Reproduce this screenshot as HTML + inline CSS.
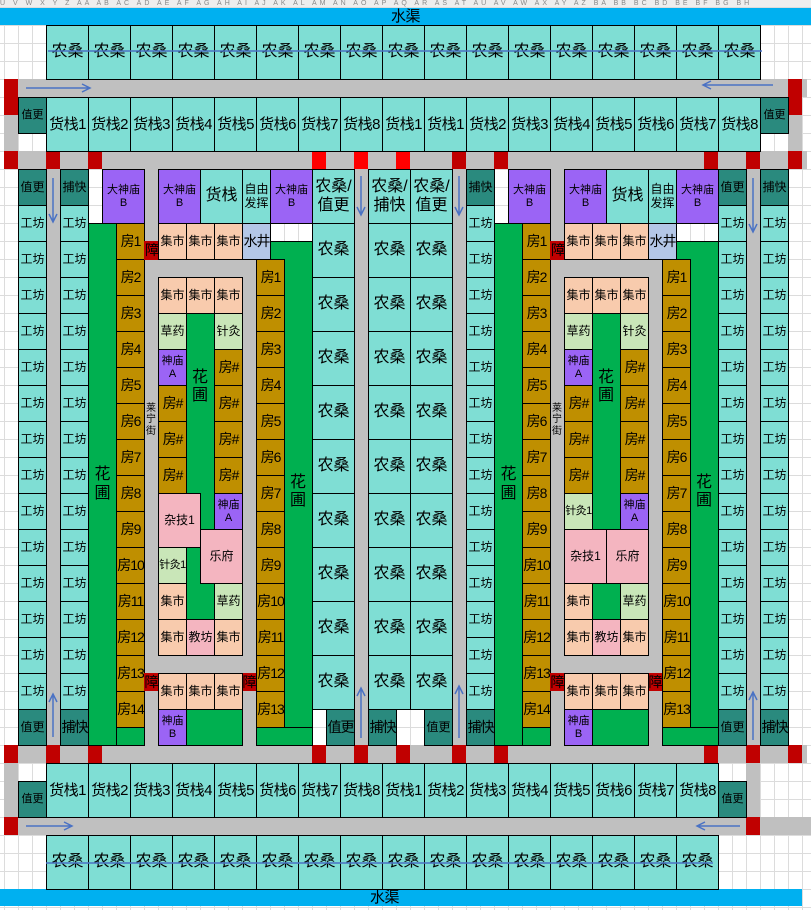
<!DOCTYPE html>
<html><head><meta charset="utf-8"><style>
*{margin:0;padding:0}
body{width:811px;height:910px;position:relative;overflow:hidden;background-color:#fff;
background-image:linear-gradient(to right,#dcdcdc 1px,transparent 1px),linear-gradient(to bottom,#dcdcdc 1px,transparent 1px);
background-size:14px 18px;background-position:4px 7px;
font-family:"Liberation Sans","Noto Sans CJK SC","WenQuanYi Zen Hei",sans-serif;color:#000}
div{position:absolute;box-sizing:border-box}
.c{border:1px solid #000;display:flex;align-items:center;justify-content:center;text-align:center;line-height:1.15;font-size:12px;white-space:nowrap}
.t{background:#7fded4}.d{background:#2a8a7e}.p{background:#9b64f5}.b{background:#bf8f00}
.g{background:#00b050}.k{background:#f8cbad}.l{background:#c9e6b8}.pk{background:#f4b5c0}.w{background:#b4c7e7}
.r{background:#c0c0c0}.R{background:#c00000}.F{background:#ff0000}
.n{font-size:16px}.h{font-size:15px;letter-spacing:-0.5px}.s{font-size:11px}.f{font-size:14px;letter-spacing:-1px}
.lab{display:flex;align-items:center;justify-content:center;text-align:center;line-height:1.15;white-space:nowrap}
</style></head><body>
<div style="left:0;top:0;width:811px;height:7px;background:#eee;font-size:7px;color:#888;overflow:hidden;line-height:7px;letter-spacing:3px">U V W X Y Z AA AB AC AD AE AF AG AH AI AJ AK AL AM AN AO AP AQ AR AS AT AU AV AW AX AY AZ BA BB BC BD BE BF BG BH</div>
<div class="lab h" style="left:0;top:8px;width:811px;height:17px;background:#00b0f0">水渠</div>
<div class="lab h" style="left:0;top:889px;width:802px;height:17px;background:#00b0f0;justify-content:flex-start;padding-left:370px">水渠</div>

<div class="r" style="left:4px;top:79px;width:803px;height:18px"></div>
<div class="r" style="left:4px;top:151px;width:803px;height:18px"></div>
<div class="r" style="left:4px;top:745px;width:803px;height:18px"></div>
<div class="r" style="left:4px;top:817px;width:807px;height:18px"></div>
<div class="r" style="left:4px;top:79px;width:14px;height:90px"></div>
<div class="r" style="left:4px;top:745px;width:14px;height:90px"></div>
<div class="r" style="left:788px;top:79px;width:14px;height:90px"></div>
<div class="r" style="left:746px;top:745px;width:14px;height:90px"></div>
<div class="r" style="left:46px;top:169px;width:14px;height:576px"></div>
<div class="r" style="left:144px;top:169px;width:14px;height:576px"></div>
<div class="r" style="left:144px;top:259px;width:112px;height:486px"></div>
<div class="r" style="left:354px;top:169px;width:14px;height:576px"></div>
<div class="r" style="left:452px;top:169px;width:14px;height:576px"></div>
<div class="r" style="left:550px;top:169px;width:14px;height:576px"></div>
<div class="r" style="left:550px;top:259px;width:112px;height:486px"></div>
<div class="r" style="left:746px;top:169px;width:14px;height:576px"></div>

<div class="R" style="left:4px;top:79px;width:14px;height:36px"></div>
<div class="R" style="left:788px;top:79px;width:14px;height:36px"></div>
<div class="R" style="left:4px;top:151px;width:14px;height:18px"></div>
<div class="R" style="left:46px;top:151px;width:14px;height:18px"></div>
<div class="R" style="left:88px;top:151px;width:14px;height:18px"></div>
<div class="F" style="left:312px;top:151px;width:14px;height:18px"></div>
<div class="F" style="left:354px;top:151px;width:14px;height:18px"></div>
<div class="F" style="left:396px;top:151px;width:14px;height:18px"></div>
<div class="R" style="left:452px;top:151px;width:14px;height:18px"></div>
<div class="R" style="left:494px;top:151px;width:14px;height:18px"></div>
<div class="R" style="left:704px;top:151px;width:14px;height:18px"></div>
<div class="R" style="left:746px;top:151px;width:14px;height:18px"></div>
<div class="R" style="left:788px;top:151px;width:14px;height:18px"></div>
<div class="R" style="left:4px;top:745px;width:14px;height:18px"></div>
<div class="R" style="left:46px;top:745px;width:14px;height:18px"></div>
<div class="R" style="left:88px;top:745px;width:14px;height:18px"></div>
<div class="R" style="left:312px;top:745px;width:14px;height:18px"></div>
<div class="R" style="left:354px;top:745px;width:14px;height:18px"></div>
<div class="R" style="left:396px;top:745px;width:14px;height:18px"></div>
<div class="R" style="left:452px;top:745px;width:14px;height:18px"></div>
<div class="R" style="left:494px;top:745px;width:14px;height:18px"></div>
<div class="R" style="left:704px;top:745px;width:14px;height:18px"></div>
<div class="R" style="left:746px;top:745px;width:14px;height:18px"></div>
<div class="R" style="left:788px;top:745px;width:14px;height:18px"></div>
<div class="R" style="left:4px;top:817px;width:14px;height:18px"></div>
<div class="R" style="left:746px;top:817px;width:14px;height:18px"></div>

<div class="c t n" style="left:46px;top:25px;width:43px;height:55px">农桑</div>
<div class="c t n" style="left:88px;top:25px;width:43px;height:55px">农桑</div>
<div class="c t n" style="left:130px;top:25px;width:43px;height:55px">农桑</div>
<div class="c t n" style="left:172px;top:25px;width:43px;height:55px">农桑</div>
<div class="c t n" style="left:214px;top:25px;width:43px;height:55px">农桑</div>
<div class="c t n" style="left:256px;top:25px;width:43px;height:55px">农桑</div>
<div class="c t n" style="left:298px;top:25px;width:43px;height:55px">农桑</div>
<div class="c t n" style="left:340px;top:25px;width:43px;height:55px">农桑</div>
<div class="c t n" style="left:382px;top:25px;width:43px;height:55px">农桑</div>
<div class="c t n" style="left:424px;top:25px;width:43px;height:55px">农桑</div>
<div class="c t n" style="left:466px;top:25px;width:43px;height:55px">农桑</div>
<div class="c t n" style="left:508px;top:25px;width:43px;height:55px">农桑</div>
<div class="c t n" style="left:550px;top:25px;width:43px;height:55px">农桑</div>
<div class="c t n" style="left:592px;top:25px;width:43px;height:55px">农桑</div>
<div class="c t n" style="left:634px;top:25px;width:43px;height:55px">农桑</div>
<div class="c t n" style="left:676px;top:25px;width:43px;height:55px">农桑</div>
<div class="c t n" style="left:718px;top:25px;width:43px;height:55px">农桑</div>

<div class="c d s" style="left:18px;top:97px;width:29px;height:37px">值更</div>
<div class="c d s" style="left:760px;top:97px;width:29px;height:37px">值更</div>
<div class="c t h" style="left:46px;top:97px;width:43px;height:55px">货栈1</div>
<div class="c t h" style="left:88px;top:97px;width:43px;height:55px">货栈2</div>
<div class="c t h" style="left:130px;top:97px;width:43px;height:55px">货栈3</div>
<div class="c t h" style="left:172px;top:97px;width:43px;height:55px">货栈4</div>
<div class="c t h" style="left:214px;top:97px;width:43px;height:55px">货栈5</div>
<div class="c t h" style="left:256px;top:97px;width:43px;height:55px">货栈6</div>
<div class="c t h" style="left:298px;top:97px;width:43px;height:55px">货栈7</div>
<div class="c t h" style="left:340px;top:97px;width:43px;height:55px">货栈8</div>
<div class="c t h" style="left:382px;top:97px;width:43px;height:55px">货栈1</div>
<div class="c t h" style="left:424px;top:97px;width:43px;height:55px">货栈1</div>
<div class="c t h" style="left:466px;top:97px;width:43px;height:55px">货栈2</div>
<div class="c t h" style="left:508px;top:97px;width:43px;height:55px">货栈3</div>
<div class="c t h" style="left:550px;top:97px;width:43px;height:55px">货栈4</div>
<div class="c t h" style="left:592px;top:97px;width:43px;height:55px">货栈5</div>
<div class="c t h" style="left:634px;top:97px;width:43px;height:55px">货栈6</div>
<div class="c t h" style="left:676px;top:97px;width:43px;height:55px">货栈7</div>
<div class="c t h" style="left:718px;top:97px;width:43px;height:55px">货栈8</div>

<div class="c d s" style="left:18px;top:781px;width:29px;height:37px">值更</div>
<div class="c d s" style="left:718px;top:781px;width:29px;height:37px">值更</div>
<div class="c t h" style="left:46px;top:763px;width:43px;height:55px">货栈1</div>
<div class="c t h" style="left:88px;top:763px;width:43px;height:55px">货栈2</div>
<div class="c t h" style="left:130px;top:763px;width:43px;height:55px">货栈3</div>
<div class="c t h" style="left:172px;top:763px;width:43px;height:55px">货栈4</div>
<div class="c t h" style="left:214px;top:763px;width:43px;height:55px">货栈5</div>
<div class="c t h" style="left:256px;top:763px;width:43px;height:55px">货栈6</div>
<div class="c t h" style="left:298px;top:763px;width:43px;height:55px">货栈7</div>
<div class="c t h" style="left:340px;top:763px;width:43px;height:55px">货栈8</div>
<div class="c t h" style="left:382px;top:763px;width:43px;height:55px">货栈1</div>
<div class="c t h" style="left:424px;top:763px;width:43px;height:55px">货栈2</div>
<div class="c t h" style="left:466px;top:763px;width:43px;height:55px">货栈3</div>
<div class="c t h" style="left:508px;top:763px;width:43px;height:55px">货栈4</div>
<div class="c t h" style="left:550px;top:763px;width:43px;height:55px">货栈5</div>
<div class="c t h" style="left:592px;top:763px;width:43px;height:55px">货栈6</div>
<div class="c t h" style="left:634px;top:763px;width:43px;height:55px">货栈7</div>
<div class="c t h" style="left:676px;top:763px;width:43px;height:55px">货栈8</div>

<div class="c t n" style="left:46px;top:835px;width:43px;height:55px">农桑</div>
<div class="c t n" style="left:88px;top:835px;width:43px;height:55px">农桑</div>
<div class="c t n" style="left:130px;top:835px;width:43px;height:55px">农桑</div>
<div class="c t n" style="left:172px;top:835px;width:43px;height:55px">农桑</div>
<div class="c t n" style="left:214px;top:835px;width:43px;height:55px">农桑</div>
<div class="c t n" style="left:256px;top:835px;width:43px;height:55px">农桑</div>
<div class="c t n" style="left:298px;top:835px;width:43px;height:55px">农桑</div>
<div class="c t n" style="left:340px;top:835px;width:43px;height:55px">农桑</div>
<div class="c t n" style="left:382px;top:835px;width:43px;height:55px">农桑</div>
<div class="c t n" style="left:424px;top:835px;width:43px;height:55px">农桑</div>
<div class="c t n" style="left:466px;top:835px;width:43px;height:55px">农桑</div>
<div class="c t n" style="left:508px;top:835px;width:43px;height:55px">农桑</div>
<div class="c t n" style="left:550px;top:835px;width:43px;height:55px">农桑</div>
<div class="c t n" style="left:592px;top:835px;width:43px;height:55px">农桑</div>
<div class="c t n" style="left:634px;top:835px;width:43px;height:55px">农桑</div>
<div class="c t n" style="left:676px;top:835px;width:43px;height:55px">农桑</div>

<div class="c d" style="left:18px;top:169px;width:29px;height:37px">值更</div>
<div class="c d" style="left:18px;top:709px;width:29px;height:37px">值更</div>
<div class="c d" style="left:60px;top:169px;width:29px;height:37px">捕快</div>
<div class="c d f" style="left:60px;top:709px;width:29px;height:37px">捕快</div>
<div class="c d" style="left:466px;top:169px;width:29px;height:37px">捕快</div>
<div class="c d f" style="left:466px;top:709px;width:29px;height:37px">捕快</div>
<div class="c d" style="left:718px;top:169px;width:29px;height:37px">值更</div>
<div class="c d" style="left:718px;top:709px;width:29px;height:37px">值更</div>
<div class="c d" style="left:760px;top:169px;width:29px;height:37px">捕快</div>
<div class="c d f" style="left:760px;top:709px;width:29px;height:37px">捕快</div>

<div style="left:18px;top:205px;width:29px;height:505px;display:flex;flex-direction:column">
<div class="c t" style="position:relative;width:29px;height:37px;margin-bottom:-1px">工坊</div><div class="c t" style="position:relative;width:29px;height:37px;margin-bottom:-1px">工坊</div><div class="c t" style="position:relative;width:29px;height:37px;margin-bottom:-1px">工坊</div><div class="c t" style="position:relative;width:29px;height:37px;margin-bottom:-1px">工坊</div><div class="c t" style="position:relative;width:29px;height:37px;margin-bottom:-1px">工坊</div><div class="c t" style="position:relative;width:29px;height:37px;margin-bottom:-1px">工坊</div><div class="c t" style="position:relative;width:29px;height:37px;margin-bottom:-1px">工坊</div><div class="c t" style="position:relative;width:29px;height:37px;margin-bottom:-1px">工坊</div><div class="c t" style="position:relative;width:29px;height:37px;margin-bottom:-1px">工坊</div><div class="c t" style="position:relative;width:29px;height:37px;margin-bottom:-1px">工坊</div><div class="c t" style="position:relative;width:29px;height:37px;margin-bottom:-1px">工坊</div><div class="c t" style="position:relative;width:29px;height:37px;margin-bottom:-1px">工坊</div><div class="c t" style="position:relative;width:29px;height:37px;margin-bottom:-1px">工坊</div><div class="c t" style="position:relative;width:29px;height:37px;margin-bottom:-1px">工坊</div>
</div>
<div style="left:60px;top:205px;width:29px;height:505px;display:flex;flex-direction:column">
<div class="c t" style="position:relative;width:29px;height:37px;margin-bottom:-1px">工坊</div><div class="c t" style="position:relative;width:29px;height:37px;margin-bottom:-1px">工坊</div><div class="c t" style="position:relative;width:29px;height:37px;margin-bottom:-1px">工坊</div><div class="c t" style="position:relative;width:29px;height:37px;margin-bottom:-1px">工坊</div><div class="c t" style="position:relative;width:29px;height:37px;margin-bottom:-1px">工坊</div><div class="c t" style="position:relative;width:29px;height:37px;margin-bottom:-1px">工坊</div><div class="c t" style="position:relative;width:29px;height:37px;margin-bottom:-1px">工坊</div><div class="c t" style="position:relative;width:29px;height:37px;margin-bottom:-1px">工坊</div><div class="c t" style="position:relative;width:29px;height:37px;margin-bottom:-1px">工坊</div><div class="c t" style="position:relative;width:29px;height:37px;margin-bottom:-1px">工坊</div><div class="c t" style="position:relative;width:29px;height:37px;margin-bottom:-1px">工坊</div><div class="c t" style="position:relative;width:29px;height:37px;margin-bottom:-1px">工坊</div><div class="c t" style="position:relative;width:29px;height:37px;margin-bottom:-1px">工坊</div><div class="c t" style="position:relative;width:29px;height:37px;margin-bottom:-1px">工坊</div>
</div>
<div style="left:466px;top:205px;width:29px;height:505px;display:flex;flex-direction:column">
<div class="c t" style="position:relative;width:29px;height:37px;margin-bottom:-1px">工坊</div><div class="c t" style="position:relative;width:29px;height:37px;margin-bottom:-1px">工坊</div><div class="c t" style="position:relative;width:29px;height:37px;margin-bottom:-1px">工坊</div><div class="c t" style="position:relative;width:29px;height:37px;margin-bottom:-1px">工坊</div><div class="c t" style="position:relative;width:29px;height:37px;margin-bottom:-1px">工坊</div><div class="c t" style="position:relative;width:29px;height:37px;margin-bottom:-1px">工坊</div><div class="c t" style="position:relative;width:29px;height:37px;margin-bottom:-1px">工坊</div><div class="c t" style="position:relative;width:29px;height:37px;margin-bottom:-1px">工坊</div><div class="c t" style="position:relative;width:29px;height:37px;margin-bottom:-1px">工坊</div><div class="c t" style="position:relative;width:29px;height:37px;margin-bottom:-1px">工坊</div><div class="c t" style="position:relative;width:29px;height:37px;margin-bottom:-1px">工坊</div><div class="c t" style="position:relative;width:29px;height:37px;margin-bottom:-1px">工坊</div><div class="c t" style="position:relative;width:29px;height:37px;margin-bottom:-1px">工坊</div><div class="c t" style="position:relative;width:29px;height:37px;margin-bottom:-1px">工坊</div>
</div>
<div style="left:718px;top:205px;width:29px;height:505px;display:flex;flex-direction:column">
<div class="c t" style="position:relative;width:29px;height:37px;margin-bottom:-1px">工坊</div><div class="c t" style="position:relative;width:29px;height:37px;margin-bottom:-1px">工坊</div><div class="c t" style="position:relative;width:29px;height:37px;margin-bottom:-1px">工坊</div><div class="c t" style="position:relative;width:29px;height:37px;margin-bottom:-1px">工坊</div><div class="c t" style="position:relative;width:29px;height:37px;margin-bottom:-1px">工坊</div><div class="c t" style="position:relative;width:29px;height:37px;margin-bottom:-1px">工坊</div><div class="c t" style="position:relative;width:29px;height:37px;margin-bottom:-1px">工坊</div><div class="c t" style="position:relative;width:29px;height:37px;margin-bottom:-1px">工坊</div><div class="c t" style="position:relative;width:29px;height:37px;margin-bottom:-1px">工坊</div><div class="c t" style="position:relative;width:29px;height:37px;margin-bottom:-1px">工坊</div><div class="c t" style="position:relative;width:29px;height:37px;margin-bottom:-1px">工坊</div><div class="c t" style="position:relative;width:29px;height:37px;margin-bottom:-1px">工坊</div><div class="c t" style="position:relative;width:29px;height:37px;margin-bottom:-1px">工坊</div><div class="c t" style="position:relative;width:29px;height:37px;margin-bottom:-1px">工坊</div>
</div>
<div style="left:760px;top:205px;width:29px;height:505px;display:flex;flex-direction:column">
<div class="c t" style="position:relative;width:29px;height:37px;margin-bottom:-1px">工坊</div><div class="c t" style="position:relative;width:29px;height:37px;margin-bottom:-1px">工坊</div><div class="c t" style="position:relative;width:29px;height:37px;margin-bottom:-1px">工坊</div><div class="c t" style="position:relative;width:29px;height:37px;margin-bottom:-1px">工坊</div><div class="c t" style="position:relative;width:29px;height:37px;margin-bottom:-1px">工坊</div><div class="c t" style="position:relative;width:29px;height:37px;margin-bottom:-1px">工坊</div><div class="c t" style="position:relative;width:29px;height:37px;margin-bottom:-1px">工坊</div><div class="c t" style="position:relative;width:29px;height:37px;margin-bottom:-1px">工坊</div><div class="c t" style="position:relative;width:29px;height:37px;margin-bottom:-1px">工坊</div><div class="c t" style="position:relative;width:29px;height:37px;margin-bottom:-1px">工坊</div><div class="c t" style="position:relative;width:29px;height:37px;margin-bottom:-1px">工坊</div><div class="c t" style="position:relative;width:29px;height:37px;margin-bottom:-1px">工坊</div><div class="c t" style="position:relative;width:29px;height:37px;margin-bottom:-1px">工坊</div><div class="c t" style="position:relative;width:29px;height:37px;margin-bottom:-1px">工坊</div>
</div>

<div class="c t n" style="left:312px;top:169px;width:43px;height:55px">农桑/<br>值更</div>
<div class="c t n" style="left:368px;top:169px;width:43px;height:55px">农桑/<br>捕快</div>
<div class="c t n" style="left:410px;top:169px;width:43px;height:55px">农桑/<br>值更</div>
<div style="left:312px;top:223px;width:43px;height:487px;display:flex;flex-direction:column">
<div class="c t n" style="position:relative;width:43px;height:55px;margin-bottom:-1px">农桑</div><div class="c t n" style="position:relative;width:43px;height:55px;margin-bottom:-1px">农桑</div><div class="c t n" style="position:relative;width:43px;height:55px;margin-bottom:-1px">农桑</div><div class="c t n" style="position:relative;width:43px;height:55px;margin-bottom:-1px">农桑</div><div class="c t n" style="position:relative;width:43px;height:55px;margin-bottom:-1px">农桑</div><div class="c t n" style="position:relative;width:43px;height:55px;margin-bottom:-1px">农桑</div><div class="c t n" style="position:relative;width:43px;height:55px;margin-bottom:-1px">农桑</div><div class="c t n" style="position:relative;width:43px;height:55px;margin-bottom:-1px">农桑</div><div class="c t n" style="position:relative;width:43px;height:55px;margin-bottom:-1px">农桑</div>
</div>
<div style="left:368px;top:223px;width:43px;height:487px;display:flex;flex-direction:column">
<div class="c t n" style="position:relative;width:43px;height:55px;margin-bottom:-1px">农桑</div><div class="c t n" style="position:relative;width:43px;height:55px;margin-bottom:-1px">农桑</div><div class="c t n" style="position:relative;width:43px;height:55px;margin-bottom:-1px">农桑</div><div class="c t n" style="position:relative;width:43px;height:55px;margin-bottom:-1px">农桑</div><div class="c t n" style="position:relative;width:43px;height:55px;margin-bottom:-1px">农桑</div><div class="c t n" style="position:relative;width:43px;height:55px;margin-bottom:-1px">农桑</div><div class="c t n" style="position:relative;width:43px;height:55px;margin-bottom:-1px">农桑</div><div class="c t n" style="position:relative;width:43px;height:55px;margin-bottom:-1px">农桑</div><div class="c t n" style="position:relative;width:43px;height:55px;margin-bottom:-1px">农桑</div>
</div>
<div style="left:410px;top:223px;width:43px;height:487px;display:flex;flex-direction:column">
<div class="c t n" style="position:relative;width:43px;height:55px;margin-bottom:-1px">农桑</div><div class="c t n" style="position:relative;width:43px;height:55px;margin-bottom:-1px">农桑</div><div class="c t n" style="position:relative;width:43px;height:55px;margin-bottom:-1px">农桑</div><div class="c t n" style="position:relative;width:43px;height:55px;margin-bottom:-1px">农桑</div><div class="c t n" style="position:relative;width:43px;height:55px;margin-bottom:-1px">农桑</div><div class="c t n" style="position:relative;width:43px;height:55px;margin-bottom:-1px">农桑</div><div class="c t n" style="position:relative;width:43px;height:55px;margin-bottom:-1px">农桑</div><div class="c t n" style="position:relative;width:43px;height:55px;margin-bottom:-1px">农桑</div><div class="c t n" style="position:relative;width:43px;height:55px;margin-bottom:-1px">农桑</div>
</div>
<div class="c d f" style="left:326px;top:709px;width:29px;height:37px">值更</div>
<div class="c d f" style="left:368px;top:709px;width:29px;height:37px">捕快</div>
<div class="c d" style="left:424px;top:709px;width:29px;height:37px">值更</div>

<!-- LEFT BLOCK -->
<div class="c p s" style="left:102px;top:169px;width:43px;height:55px">大神庙<br>B</div>
<div class="c g n" style="left:88px;top:223px;width:29px;height:523px">花<br>圃</div>
<div style="left:116px;top:223px;width:29px;height:505px;display:flex;flex-direction:column">
<div class="c b f" style="position:relative;width:29px;height:37px;margin-bottom:-1px">房1</div><div class="c b f" style="position:relative;width:29px;height:37px;margin-bottom:-1px">房2</div><div class="c b f" style="position:relative;width:29px;height:37px;margin-bottom:-1px">房3</div><div class="c b f" style="position:relative;width:29px;height:37px;margin-bottom:-1px">房4</div><div class="c b f" style="position:relative;width:29px;height:37px;margin-bottom:-1px">房5</div><div class="c b f" style="position:relative;width:29px;height:37px;margin-bottom:-1px">房6</div><div class="c b f" style="position:relative;width:29px;height:37px;margin-bottom:-1px">房7</div><div class="c b f" style="position:relative;width:29px;height:37px;margin-bottom:-1px">房8</div><div class="c b f" style="position:relative;width:29px;height:37px;margin-bottom:-1px">房9</div><div class="c b f" style="position:relative;width:29px;height:37px;margin-bottom:-1px">房10</div><div class="c b f" style="position:relative;width:29px;height:37px;margin-bottom:-1px">房11</div><div class="c b f" style="position:relative;width:29px;height:37px;margin-bottom:-1px">房12</div><div class="c b f" style="position:relative;width:29px;height:37px;margin-bottom:-1px">房13</div><div class="c b f" style="position:relative;width:29px;height:37px;margin-bottom:-1px">房14</div>
</div>
<div class="c g" style="left:116px;top:727px;width:29px;height:19px"></div>
<div class="c R f" style="left:144px;top:241px;width:15px;height:19px;border:none;overflow:hidden">障</div>
<div class="c p s" style="left:158px;top:169px;width:43px;height:55px">大神庙<br>B</div>
<div class="c t n" style="left:200px;top:169px;width:43px;height:55px">货栈</div>
<div class="c t" style="left:242px;top:169px;width:29px;height:55px">自由<br>发挥</div>
<div class="c p s" style="left:270px;top:169px;width:43px;height:55px">大神庙<br>B</div>
<div class="c k" style="left:158px;top:223px;width:29px;height:37px">集市</div>
<div class="c k" style="left:186px;top:223px;width:29px;height:37px">集市</div>
<div class="c k" style="left:214px;top:223px;width:29px;height:37px">集市</div>
<div class="c w f" style="left:242px;top:223px;width:29px;height:37px">水井</div>
<div class="c g" style="left:270px;top:241px;width:43px;height:505px"></div>
<div class="lab g n" style="left:285px;top:470px;width:26px;height:44px">花<br>圃</div>
<div style="left:256px;top:259px;width:29px;height:469px;display:flex;flex-direction:column">
<div class="c b f" style="position:relative;width:29px;height:37px;margin-bottom:-1px">房1</div><div class="c b f" style="position:relative;width:29px;height:37px;margin-bottom:-1px">房2</div><div class="c b f" style="position:relative;width:29px;height:37px;margin-bottom:-1px">房3</div><div class="c b f" style="position:relative;width:29px;height:37px;margin-bottom:-1px">房4</div><div class="c b f" style="position:relative;width:29px;height:37px;margin-bottom:-1px">房5</div><div class="c b f" style="position:relative;width:29px;height:37px;margin-bottom:-1px">房6</div><div class="c b f" style="position:relative;width:29px;height:37px;margin-bottom:-1px">房7</div><div class="c b f" style="position:relative;width:29px;height:37px;margin-bottom:-1px">房8</div><div class="c b f" style="position:relative;width:29px;height:37px;margin-bottom:-1px">房9</div><div class="c b f" style="position:relative;width:29px;height:37px;margin-bottom:-1px">房10</div><div class="c b f" style="position:relative;width:29px;height:37px;margin-bottom:-1px">房11</div><div class="c b f" style="position:relative;width:29px;height:37px;margin-bottom:-1px">房12</div><div class="c b f" style="position:relative;width:29px;height:37px;margin-bottom:-1px">房13</div>
</div>
<div class="c g" style="left:256px;top:727px;width:57px;height:19px"></div>
<div class="c g" style="left:158px;top:277px;width:85px;height:379px"></div>
<div class="lab n" style="left:186px;top:365px;width:28px;height:44px">花<br>圃</div>
<div class="c k" style="left:158px;top:277px;width:29px;height:37px">集市</div>
<div class="c k" style="left:186px;top:277px;width:29px;height:37px">集市</div>
<div class="c k" style="left:214px;top:277px;width:29px;height:37px">集市</div>
<div class="c l" style="left:158px;top:313px;width:29px;height:37px">草药</div>
<div class="c l" style="left:214px;top:313px;width:29px;height:37px">针灸</div>
<div class="c p s" style="left:158px;top:349px;width:29px;height:37px">神庙<br>A</div>
<div class="c b f" style="left:158px;top:385px;width:29px;height:37px">房#</div>
<div class="c b f" style="left:158px;top:421px;width:29px;height:37px">房#</div>
<div class="c b f" style="left:158px;top:457px;width:29px;height:37px">房#</div>
<div class="c b f" style="left:214px;top:349px;width:29px;height:37px">房#</div>
<div class="c b f" style="left:214px;top:385px;width:29px;height:37px">房#</div>
<div class="c b f" style="left:214px;top:421px;width:29px;height:37px">房#</div>
<div class="c b f" style="left:214px;top:457px;width:29px;height:37px">房#</div>
<div class="c pk" style="left:158px;top:493px;width:43px;height:55px">杂技1</div>
<div class="c p s" style="left:214px;top:493px;width:29px;height:37px">神庙<br>A</div>
<div class="c pk" style="left:200px;top:529px;width:43px;height:55px">乐府</div>
<div class="c l s" style="left:158px;top:547px;width:29px;height:37px;letter-spacing:-0.5px">针灸1</div>
<div class="c k" style="left:158px;top:583px;width:29px;height:37px">集市</div>
<div class="c l" style="left:214px;top:583px;width:29px;height:37px">草药</div>
<div class="c k" style="left:158px;top:619px;width:29px;height:37px">集市</div>
<div class="c pk" style="left:186px;top:619px;width:29px;height:37px">教坊</div>
<div class="c k" style="left:214px;top:619px;width:29px;height:37px">集市</div>
<div class="c R f" style="left:144px;top:673px;width:14px;height:18px;border:none;overflow:hidden">障</div>
<div class="c R f" style="left:242px;top:673px;width:14px;height:18px;border:none;overflow:hidden">障</div>
<div class="c g" style="left:158px;top:709px;width:85px;height:37px"></div>
<div class="c k" style="left:158px;top:673px;width:29px;height:37px">集市</div>
<div class="c k" style="left:186px;top:673px;width:29px;height:37px">集市</div>
<div class="c k" style="left:214px;top:673px;width:29px;height:37px">集市</div>
<div class="c p s" style="left:158px;top:709px;width:29px;height:37px">神庙<br>B</div>
<div class="lab" style="left:144px;top:395px;width:14px;height:50px;font-size:10px">莱<br>宁<br>街</div>

<!-- RIGHT BLOCK -->
<div class="c p s" style="left:508px;top:169px;width:43px;height:55px">大神庙<br>B</div>
<div class="c g n" style="left:494px;top:223px;width:29px;height:523px">花<br>圃</div>
<div style="left:522px;top:223px;width:29px;height:505px;display:flex;flex-direction:column">
<div class="c b f" style="position:relative;width:29px;height:37px;margin-bottom:-1px">房1</div><div class="c b f" style="position:relative;width:29px;height:37px;margin-bottom:-1px">房2</div><div class="c b f" style="position:relative;width:29px;height:37px;margin-bottom:-1px">房3</div><div class="c b f" style="position:relative;width:29px;height:37px;margin-bottom:-1px">房4</div><div class="c b f" style="position:relative;width:29px;height:37px;margin-bottom:-1px">房5</div><div class="c b f" style="position:relative;width:29px;height:37px;margin-bottom:-1px">房6</div><div class="c b f" style="position:relative;width:29px;height:37px;margin-bottom:-1px">房7</div><div class="c b f" style="position:relative;width:29px;height:37px;margin-bottom:-1px">房8</div><div class="c b f" style="position:relative;width:29px;height:37px;margin-bottom:-1px">房9</div><div class="c b f" style="position:relative;width:29px;height:37px;margin-bottom:-1px">房10</div><div class="c b f" style="position:relative;width:29px;height:37px;margin-bottom:-1px">房11</div><div class="c b f" style="position:relative;width:29px;height:37px;margin-bottom:-1px">房12</div><div class="c b f" style="position:relative;width:29px;height:37px;margin-bottom:-1px">房13</div><div class="c b f" style="position:relative;width:29px;height:37px;margin-bottom:-1px">房14</div>
</div>
<div class="c g" style="left:522px;top:727px;width:29px;height:19px"></div>
<div class="c R f" style="left:550px;top:241px;width:15px;height:19px;border:none;overflow:hidden">障</div>
<div class="c p s" style="left:564px;top:169px;width:43px;height:55px">大神庙<br>B</div>
<div class="c t n" style="left:606px;top:169px;width:43px;height:55px">货栈</div>
<div class="c t" style="left:648px;top:169px;width:29px;height:55px">自由<br>发挥</div>
<div class="c p s" style="left:676px;top:169px;width:43px;height:55px">大神庙<br>B</div>
<div class="c k" style="left:564px;top:223px;width:29px;height:37px">集市</div>
<div class="c k" style="left:592px;top:223px;width:29px;height:37px">集市</div>
<div class="c k" style="left:620px;top:223px;width:29px;height:37px">集市</div>
<div class="c w f" style="left:648px;top:223px;width:29px;height:37px">水井</div>
<div class="c g" style="left:676px;top:241px;width:43px;height:505px"></div>
<div class="lab g n" style="left:691px;top:470px;width:26px;height:44px">花<br>圃</div>
<div style="left:662px;top:259px;width:29px;height:469px;display:flex;flex-direction:column">
<div class="c b f" style="position:relative;width:29px;height:37px;margin-bottom:-1px">房1</div><div class="c b f" style="position:relative;width:29px;height:37px;margin-bottom:-1px">房2</div><div class="c b f" style="position:relative;width:29px;height:37px;margin-bottom:-1px">房3</div><div class="c b f" style="position:relative;width:29px;height:37px;margin-bottom:-1px">房4</div><div class="c b f" style="position:relative;width:29px;height:37px;margin-bottom:-1px">房5</div><div class="c b f" style="position:relative;width:29px;height:37px;margin-bottom:-1px">房6</div><div class="c b f" style="position:relative;width:29px;height:37px;margin-bottom:-1px">房7</div><div class="c b f" style="position:relative;width:29px;height:37px;margin-bottom:-1px">房8</div><div class="c b f" style="position:relative;width:29px;height:37px;margin-bottom:-1px">房9</div><div class="c b f" style="position:relative;width:29px;height:37px;margin-bottom:-1px">房10</div><div class="c b f" style="position:relative;width:29px;height:37px;margin-bottom:-1px">房11</div><div class="c b f" style="position:relative;width:29px;height:37px;margin-bottom:-1px">房12</div><div class="c b f" style="position:relative;width:29px;height:37px;margin-bottom:-1px">房13</div>
</div>
<div class="c g" style="left:662px;top:727px;width:57px;height:19px"></div>
<div class="c g" style="left:564px;top:277px;width:85px;height:379px"></div>
<div class="lab n" style="left:592px;top:365px;width:28px;height:44px">花<br>圃</div>
<div class="c k" style="left:564px;top:277px;width:29px;height:37px">集市</div>
<div class="c k" style="left:592px;top:277px;width:29px;height:37px">集市</div>
<div class="c k" style="left:620px;top:277px;width:29px;height:37px">集市</div>
<div class="c l" style="left:564px;top:313px;width:29px;height:37px">草药</div>
<div class="c l" style="left:620px;top:313px;width:29px;height:37px">针灸</div>
<div class="c p s" style="left:564px;top:349px;width:29px;height:37px">神庙<br>A</div>
<div class="c b f" style="left:564px;top:385px;width:29px;height:37px">房#</div>
<div class="c b f" style="left:564px;top:421px;width:29px;height:37px">房#</div>
<div class="c b f" style="left:564px;top:457px;width:29px;height:37px">房#</div>
<div class="c b f" style="left:620px;top:349px;width:29px;height:37px">房#</div>
<div class="c b f" style="left:620px;top:385px;width:29px;height:37px">房#</div>
<div class="c b f" style="left:620px;top:421px;width:29px;height:37px">房#</div>
<div class="c b f" style="left:620px;top:457px;width:29px;height:37px">房#</div>
<div class="c l s" style="left:564px;top:493px;width:29px;height:37px;letter-spacing:-0.5px">针灸1</div>
<div class="c p s" style="left:620px;top:493px;width:29px;height:37px">神庙<br>A</div>
<div class="c pk" style="left:564px;top:529px;width:43px;height:55px">杂技1</div>
<div class="c pk" style="left:606px;top:529px;width:43px;height:55px">乐府</div>
<div class="c k" style="left:564px;top:583px;width:29px;height:37px">集市</div>
<div class="c l" style="left:620px;top:583px;width:29px;height:37px">草药</div>
<div class="c k" style="left:564px;top:619px;width:29px;height:37px">集市</div>
<div class="c pk" style="left:592px;top:619px;width:29px;height:37px">教坊</div>
<div class="c k" style="left:620px;top:619px;width:29px;height:37px">集市</div>
<div class="c R f" style="left:550px;top:673px;width:14px;height:18px;border:none;overflow:hidden">障</div>
<div class="c R f" style="left:648px;top:673px;width:14px;height:18px;border:none;overflow:hidden">障</div>
<div class="c g" style="left:564px;top:709px;width:85px;height:37px"></div>
<div class="c k" style="left:564px;top:673px;width:29px;height:37px">集市</div>
<div class="c k" style="left:592px;top:673px;width:29px;height:37px">集市</div>
<div class="c k" style="left:620px;top:673px;width:29px;height:37px">集市</div>
<div class="c p s" style="left:564px;top:709px;width:29px;height:37px">神庙<br>B</div>
<div class="lab" style="left:550px;top:395px;width:14px;height:50px;font-size:10px">莱<br>宁<br>街</div>

<svg width="811" height="910" style="position:absolute;left:0;top:0" fill="none" stroke="#4a72c4" stroke-width="1.5">
<line x1="48" y1="51" x2="762" y2="51"/>
<line x1="46" y1="863" x2="713" y2="863"/>
<path d="M26 88H90M82 84L90 88L82 92"/>
<path d="M773 85H703M711 81L703 85L711 89"/>
<path d="M26 826H72M64 822L72 826L64 830"/>
<path d="M740 826H697M705 822L697 826L705 830"/>
<path d="M53 178V222M49 214L53 222L57 214"/>
<path d="M53 737V694M49 702L53 694L57 702"/>
<path d="M361 176V215M357 207L361 215L365 207"/>
<path d="M361 738V688M357 696L361 688L365 696"/>
<path d="M459 176V215M455 207L459 215L463 207"/>
<path d="M459 738V686M455 694L459 686L463 694"/>
<path d="M753 178V232M749 224L753 232L757 224"/>
<path d="M753 740V692M749 700L753 692L757 700"/>
</svg>
</body></html>
